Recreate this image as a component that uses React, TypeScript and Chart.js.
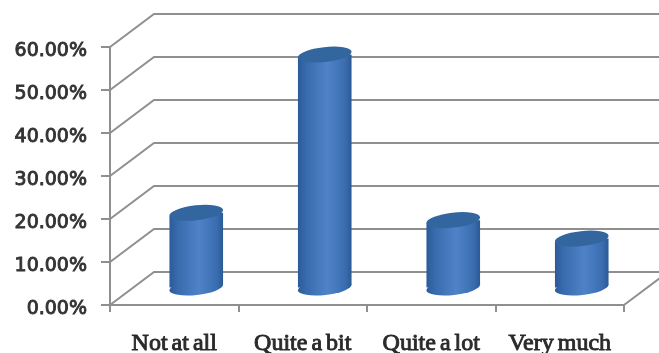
import React, { useEffect, useRef } from "react";
import { Chart, registerables } from "chart.js";

Chart.register(...registerables);

const categories = ["Not at all", "Quite a bit", "Quite a lot", "Very much"];
const responses = [17.6, 54.4, 15.9, 11.6];

const DEPTH_X = 44;
const DEPTH_Y = 33;
const GRID = "#8f8f8f";
const INK = "#333333";

// Horizontal shading that gives each column its rounded look.
function cylinderFill(ctx: CanvasRenderingContext2D, left: number, right: number) {
  const g = ctx.createLinearGradient(left, 0, right, 0);
  g.addColorStop(0, "#2b5a98");
  g.addColorStop(0.15, "#386aac");
  g.addColorStop(0.55, "#4f83c8");
  g.addColorStop(0.88, "#3a6db0");
  g.addColorStop(1, "#2a5994");
  return g;
}

// Tight word gaps on the category labels, and the tick text nudged onto its gridline.
const labelPlugin = {
  id: "labelNudge",
  beforeDraw(chart: any) {
    chart.ctx.wordSpacing = "-2px";
    for (const item of chart.scales.y.getLabelItems()) {
      if (!item.nudged) {
        item.options.translation[1] += 4;
        item.nudged = true;
      }
    }
  },
};

// Receding walls and floor, stepped back from the front plane of the axes.
const wallsPlugin = {
  id: "walls",
  beforeDatasetsDraw(chart: any) {
    const { ctx, scales } = chart;
    const y = scales.y;
    const left = scales.x.left;
    const right = scales.x.right;
    ctx.save();
    ctx.strokeStyle = GRID;
    ctx.lineWidth = 2;
    ctx.beginPath();
    for (const tick of y.ticks) {
      const py = y.getPixelForValue(tick.value);
      ctx.moveTo(left, py);
      ctx.lineTo(left + DEPTH_X, py - DEPTH_Y);
      ctx.lineTo(chart.width, py - DEPTH_Y);
    }
    const floor = y.getPixelForValue(0);
    ctx.moveTo(right, floor);
    ctx.lineTo(right + DEPTH_X, floor - DEPTH_Y);
    ctx.stroke();
    ctx.restore();
  },
};

// Bars stand mid-way along the floor and get elliptical caps.
const cylinderPlugin = {
  id: "cylinders",
  beforeDatasetDraw(chart: any, args: any) {
    const { ctx } = chart;
    const tilt = -0.11;
    const minor = 7.5;
    for (const bar of args.meta.data) {
      const { x, y, base, width } = bar.getProps(["x", "y", "base", "width"], true);
      const r = width / 2;
      const rise = Math.sin(tilt) * r;
      ctx.save();
      ctx.translate(DEPTH_X / 2, -DEPTH_Y / 2);

      ctx.beginPath();
      ctx.ellipse(x, base, r, minor, tilt, 0, Math.PI * 2);
      ctx.fillStyle = cylinderFill(ctx, x - r, x + r);
      ctx.fill();

      ctx.save();
      ctx.beginPath();
      ctx.moveTo(x - r, y - rise);
      ctx.lineTo(x + r, y + rise);
      ctx.lineTo(x + r, base + rise);
      ctx.lineTo(x - r, base - rise);
      ctx.closePath();
      ctx.clip();
      bar.draw(ctx);
      ctx.restore();

      ctx.beginPath();
      ctx.ellipse(x, y, r, minor, tilt, 0, Math.PI * 2);
      ctx.fillStyle = "#33669f";
      ctx.fill();
      ctx.restore();
    }
    return false;
  },
};

export default function App() {
  const ref = useRef<HTMLCanvasElement>(null);

  useEffect(() => {
    const chart = new Chart(ref.current!, {
      type: "bar",
      data: {
        labels: categories,
        datasets: [
          {
            data: responses,
            barPercentage: 0.42,
            categoryPercentage: 1,
            borderWidth: 0,
            backgroundColor: (c: any) => {
              const s = c.chart.scales.x;
              const mid = s && c.dataIndex !== undefined ? s.getPixelForValue(c.dataIndex) : NaN;
              if (!Number.isFinite(mid) || !Number.isFinite(s.width)) return "#4a7cbd";
              const half = (s.width / categories.length) * 0.21;
              return cylinderFill(c.chart.ctx, mid - half, mid + half);
            },
          },
        ],
      },
      options: {
        responsive: false,
        animation: false,
        layout: { padding: { top: 47, right: 35, left: 0, bottom: 0 } },
        plugins: { legend: { display: false }, tooltip: { enabled: false } },
        scales: {
          x: {
            afterFit: (s: any) => {
              s.height = 48;
            },
            grid: { drawOnChartArea: false, color: GRID, lineWidth: 2, tickLength: 7 },
            border: { color: GRID, width: 2 },
            ticks: {
              color: "#2a2a2a",
              padding: 17,
              maxRotation: 0,
              textStrokeColor: "#2a2a2a",
              textStrokeWidth: 0.9,
              font: { family: "'Liberation Serif'", size: 24 },
            },
          },
          y: {
            min: 0,
            max: 60,
            afterFit: (s: any) => {
              s.width = 110;
            },
            grid: { drawOnChartArea: false, color: GRID, lineWidth: 2, tickLength: 9 },
            border: { color: GRID, width: 2 },
            ticks: {
              stepSize: 10,
              color: INK,
              padding: 14,
              textStrokeColor: INK,
              textStrokeWidth: 0.9,
              font: { family: "'DejaVu Sans'", size: 19 },
              callback: (v: any) => Number(v).toFixed(2) + "%",
            },
          },
        },
      },
      plugins: [labelPlugin, wallsPlugin, cylinderPlugin],
    });
    return () => chart.destroy();
  }, []);

  return (
    <div style={{ position: "absolute", left: 0, top: 0, width: 659, height: 353, background: "#fff" }}>
      <canvas ref={ref} width={659} height={353} style={{ display: "block" }} />
    </div>
  );
}
